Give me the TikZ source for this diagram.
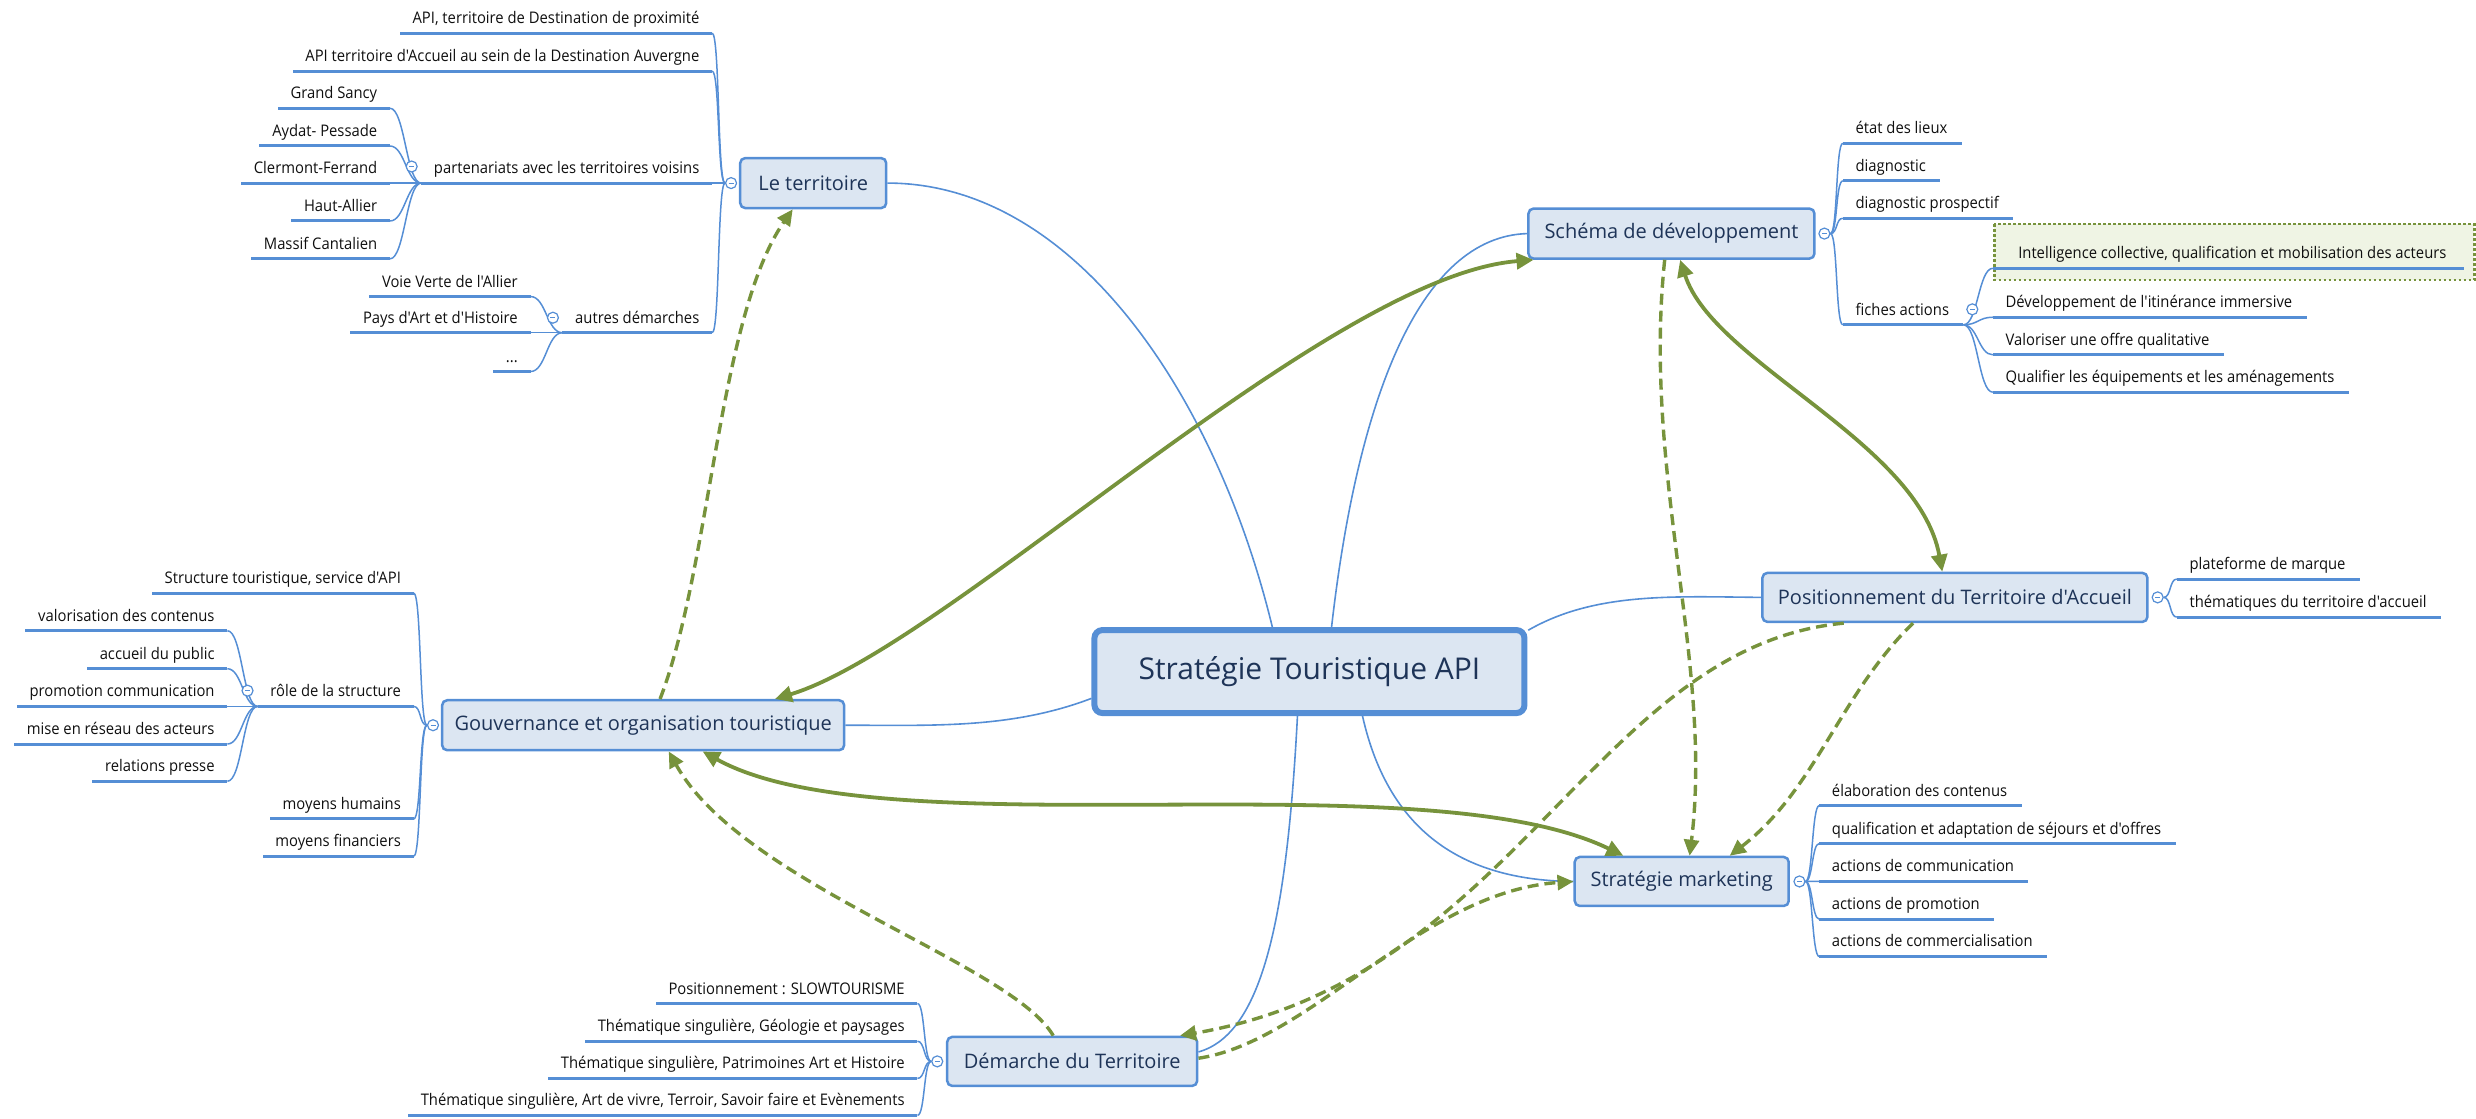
\documentclass[tikz,border=0pt]{standalone}
\usepackage{fontspec}
\setmainfont[Ligatures=TeXOff]{Open Sans}
\newfontfamily\leaffont[FakeStretch=0.925,Ligatures=TeXOff]{Open Sans}
\usetikzlibrary{arrows.meta,calc}
\definecolor{lblue}{RGB}{85,142,213}
\definecolor{nfill}{RGB}{220,230,242}
\definecolor{ntext}{RGB}{30,52,88}
\definecolor{ltext}{RGB}{15,15,15}
\definecolor{rgreen}{RGB}{119,147,60}
\definecolor{bfill}{RGB}{239,244,228}
\tikzset{
  leaf/.style={font=\leaffont\fontsize{16}{19}\selectfont, text=ltext, inner sep=0pt},
  mainn/.style={draw=lblue, fill=nfill, line width=2.5pt, rounded corners=5pt, text=ntext,
    font=\fontsize{20}{24}\selectfont, inner sep=0pt},
  centraln/.style={mainn, line width=6pt, rounded corners=8pt, font=\fontsize{30}{36}\selectfont},
  branch/.style={draw=lblue, line width=1.5pt},
  uline/.style={draw=lblue, line width=3pt},
  conn/.style={draw=lblue, line width=1.6pt},
  hubc/.style={circle, draw=lblue, fill=white, line width=1.2pt, minimum size=11pt, inner sep=0pt,
    path picture={\draw[lblue,line width=1pt] ([xshift=-2.5pt]path picture bounding box.center) -- ([xshift=2.5pt]path picture bounding box.center);}},
  relsolid/.style={draw=rgreen, line width=3.8pt, {Triangle[length=17pt,width=16pt]}-{Triangle[length=17pt,width=16pt]}},
  reldash/.style={draw=rgreen, line width=3.4pt, dash pattern=on 11pt off 6pt, -{Triangle[length=16pt,width=15pt]}}
}
\newcommand\leafL[6]{%
  \node[leaf,anchor=base east] (#1) at (#4-8,#5-6) {#6};
  \draw[branch] (#2) .. controls +(-#3,0) and +(#3,0) .. (#4,#5);
  \draw[uline] (#4,#5) -- ($(#1.base west)+(-8,6)$);
}
\newcommand\leafR[6]{%
  \node[leaf,anchor=base west] (#1) at (#4+8,#5-6) {#6};
  \draw[branch] (#2) .. controls +(#3,0) and +(-#3,0) .. (#4,#5);
  \draw[uline] (#4,#5) -- ($(#1.base east)+(9,6)$);
}
\begin{document}
\begin{tikzpicture}[x=1.57908pt,y=-1.57828pt]
\useasboundingbox (0,0) rectangle (1568,709);

% main nodes
\node[centraln, minimum width=430pt, minimum height=83pt] (c) at (829.25,425.5) {Stratégie Touristique API};
\node[mainn, minimum width=146pt, minimum height=50pt] (ter) at (515,116) {Le territoire};
\node[mainn, minimum width=402pt, minimum height=50pt] (gov) at (407.3,459.5) {Gouvernance et organisation touristique};
\node[mainn, minimum width=286pt, minimum height=50pt] (sch) at (1058.5,148) {Schéma de développement};
\node[mainn, minimum width=385pt, minimum height=49pt] (pos) at (1238,378.5) {Positionnement du Territoire d'Accueil};
\node[mainn, minimum width=214pt, minimum height=49pt] (mkt) at (1065,558.5) {Stratégie marketing};
\node[mainn, minimum width=250pt, minimum height=49pt] (dem) at (679,672.5) {Démarche du Territoire};

% central connectors
\draw[conn] ($(c.north)+(-23.5,0)$) .. controls (770,250) and (680,116) .. (ter.east);
\draw[conn] ($(c.north)+(14,0)$) .. controls (860,250) and (900,150) .. (sch.west);
\draw[conn] ($(c.north east)+(0.5,2)$) .. controls (1010,375) and (1060,378) .. (pos.west);
\draw[conn] ($(c.south)+(33.6,0)$) .. controls (880,530) and (930,558) .. (mkt.west);
\draw[conn] ($(c.south)+(-7.6,0)$) .. controls (815,580) and (800,655) .. ($(dem.east)+(0,-6)$);
\draw[conn] ($(c.west)+(0,17)$) .. controls (640,462) and (590,459.5) .. (gov.east);

% hub circles of main nodes
\node[hubc] (cT) at ($(ter.west)+(-5,0)$) {};
\node[hubc] (cG) at ($(gov.west)+(-5,0)$) {};
\node[hubc] (cD) at ($(dem.west)+(-5.5,0)$) {};
\node[hubc] (cS) at ($(sch.east)+(5.5,0)$) {};
\node[hubc] (cP) at ($(pos.east)+(5.7,0)$) {};
\node[hubc] (cM) at ($(mkt.east)+(6,0)$) {};

% Le territoire
\leafL{t1}{cT.west}{4.75}{451}{21}{API, territoire de Destination de proximité}
\leafL{t2}{cT.west}{4.75}{451}{45}{API territoire d'Accueil au sein de la Destination Auvergne}
\leafL{t3}{cT.west}{4.75}{451}{116}{partenariats avec les territoires voisins}
\leafL{t4}{cT.west}{4.75}{451}{210.8}{autres démarches}
\coordinate (hP) at ($(t3.base west)+(-8,6)$);
\coordinate (hA) at ($(t4.base west)+(-8,6)$);
\leafL{p1}{hP}{9.25}{247}{68.6}{Grand Sancy}
\leafL{p2}{hP}{9.25}{247}{92.5}{Aydat- Pessade}
\leafL{p3}{hP}{9.25}{247}{116}{Clermont-Ferrand}
\leafL{p4}{hP}{9.25}{247}{140}{Haut-Allier}
\leafL{p5}{hP}{9.25}{247}{164}{Massif Cantalien}
\leafL{a1}{hA}{9.75}{336}{187.9}{Voie Verte de l'Allier}
\leafL{a2}{hA}{9.75}{336}{210.8}{Pays d'Art et d'Histoire}
\leafL{a3}{hA}{9.75}{336}{235.4}{...}
\node[hubc] (cTp) at ($(t3.base west)+(-14,-4.5)$) {};
\node[hubc] (cTa) at ($(t4.base west)+(-14,-3.5)$) {};

% Gouvernance
\leafL{g1}{cG.west}{4.85}{262}{375.8}{Structure touristique, service d'API}
\leafL{g2}{cG.west}{4.85}{262}{447.6}{rôle de la structure}
\leafL{g3}{cG.west}{4.85}{262}{518.9}{moyens humains}
\leafL{g4}{cG.west}{4.85}{262}{542.5}{moyens financiers}
\coordinate (hR) at ($(g2.base west)+(-8,6)$);
\leafL{r1}{hR}{9.25}{144}{399.6}{valorisation des contenus}
\leafL{r2}{hR}{9.25}{144}{423.7}{accueil du public}
\leafL{r3}{hR}{9.25}{144}{447.6}{promotion communication}
\leafL{r4}{hR}{9.25}{144}{471.4}{mise en réseau des acteurs}
\leafL{r5}{hR}{9.25}{144}{495}{relations presse}
\node[hubc] (cGr) at ($(g2.base west)+(-14.4,-4)$) {};

% Demarche
\leafL{d1}{cD.west}{4.75}{581}{635.8}{Positionnement : SLOWTOURISME}
\leafL{d2}{cD.west}{4.75}{581}{659.7}{Thématique singulière, Géologie et paysages}
\leafL{d3}{cD.west}{4.75}{581}{683.3}{Thématique singulière, Patrimoines Art et Histoire}
\leafL{d4}{cD.west}{4.75}{581}{706.7}{Thématique singulière, Art de vivre, Terroir, Savoir faire et Evènements}

% Schema
\leafR{s1}{cS.east}{4.5}{1167}{90.8}{état des lieux}
\leafR{s2}{cS.east}{4.5}{1167}{114.6}{diagnostic}
\leafR{s3}{cS.east}{4.5}{1167}{138.3}{diagnostic prospectif}
\leafR{s4}{cS.east}{4.5}{1167}{205.8}{fiches actions}
\coordinate (hF) at ($(s4.base east)+(9,6)$);
\fill[bfill] (1263,142) rectangle (1567,177.3);
\draw[rgreen, line width=2.5pt, dash pattern=on 2.5pt off 2.5pt] (1263,142) rectangle (1567,177.3);
\node[leaf,anchor=base west] (f1) at (1278,164) {Intelligence collective, qualification et mobilisation des acteurs};
\draw[branch] (hF) .. controls +(9,0) and +(-9,0) .. (1262,170);
\draw[uline] (1262,170) -- (1560.6,170);
\leafR{f2}{hF}{9}{1262}{201}{Développement de l'itinérance immersive}
\leafR{f3}{hF}{9}{1262}{224.8}{Valoriser une offre qualitative}
\leafR{f4}{hF}{9}{1262}{248.5}{Qualifier les équipements et les aménagements}
\node[hubc] (cSf) at ($(s4.base east)+(14.6,-3.8)$) {};

% Positionnement
\leafR{o1}{cP.east}{4.65}{1378.5}{366.9}{plateforme de marque}
\leafR{o2}{cP.east}{4.65}{1378.5}{391}{thématiques du territoire d'accueil}

% Marketing
\leafR{m1}{cM.east}{4.5}{1152}{510.5}{élaboration des contenus}
\leafR{m2}{cM.east}{4.5}{1152}{534.5}{qualification et adaptation de séjours et d'offres}
\leafR{m3}{cM.east}{4.5}{1152}{558.4}{actions de communication}
\leafR{m4}{cM.east}{4.5}{1152}{582.3}{actions de promotion}
\leafR{m5}{cM.east}{4.5}{1152}{606}{actions de commercialisation}

% relationships
\draw[relsolid] ($(gov.north)+(83.5,0)$) .. controls (600,410) and (840,175) .. ($(sch.south west)+(4,0)$);
\draw[relsolid] ($(gov.south)+(37.7,0)$) .. controls (560,540) and (900,480) .. ($(mkt.north)+(-37,0)$);
\draw[relsolid] ($(sch.south)+(5.5,0)$) .. controls (1085,230) and (1215,280) .. ($(pos.north)+(-8,0)$);
\draw[reldash] ($(gov.north)+(10.7,0)$) .. controls (450,360) and (455,200) .. ($(ter.south)+(-13,0)$);
\draw[reldash] ($(dem.north)+(-12,0)$) .. controls (640,610) and (470,560) .. ($(gov.south)+(16.2,0)$);
\draw[reldash] ($(sch.south)+(-4.3,0)$) .. controls (1040,300) and (1085,420) .. ($(mkt.north)+(5,0)$);
\draw[reldash] ($(pos.south)+(-70.4,0)$) .. controls (1010,410) and (960,620) .. ($(dem.north)+(68.3,0)$);
\draw[reldash] ($(pos.south)+(-26.5,0)$) .. controls (1165,440) and (1150,500) .. ($(mkt.north)+(30.4,0)$);
\draw[reldash] ($(dem.east)+(0,-2)$) .. controls (830,660) and (900,565) .. (mkt.west);
\end{tikzpicture}
\end{document}
